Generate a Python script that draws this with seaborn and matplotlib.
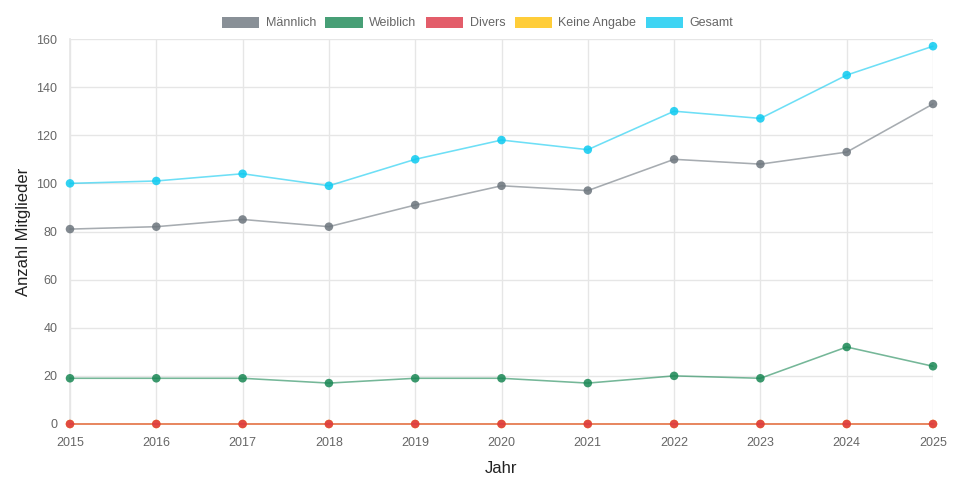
import matplotlib
matplotlib.use("Agg")
import matplotlib.pyplot as plt
from matplotlib.patches import Patch
import seaborn as sns
import pandas as pd

years = [2015, 2016, 2017, 2018, 2019, 2020, 2021, 2022, 2023, 2024, 2025]
maennlich = [81, 82, 85, 82, 91, 99, 97, 110, 108, 113, 133]
weiblich = [19, 19, 19, 17, 19, 19, 17, 20, 19, 32, 24]
divers = [0, 0, 0, 0, 0, 0, 0, 0, 0, 0, 0]
keine_angabe = [0, 0, 0, 0, 0, 0, 0, 0, 0, 0, 0]
gesamt = [100, 101, 104, 99, 110, 118, 114, 130, 127, 145, 157]

series_names = ["Männlich", "Weiblich", "Divers", "Keine Angabe", "Gesamt"]
series_values = [maennlich, weiblich, divers, keine_angabe, gesamt]
colors = {"Männlich": "#6c757d", "Weiblich": "#198754", "Divers": "#dc3545",
          "Keine Angabe": "#ffc107", "Gesamt": "#0dcaf0"}

rows = []
for name, vals in zip(series_names, series_values):
    for y, v in zip(years, vals):
        rows.append({"Jahr": y, "Wert": v, "Serie": name})
df = pd.DataFrame(rows)

sns.set_theme(style="white")
plt.rcParams["font.family"] = ["Liberation Sans", "DejaVu Sans"]

fig = plt.figure(figsize=(9.55, 4.83), dpi=100)
ax = fig.add_axes([70 / 955, 1 - 424 / 483, (933 - 70) / 955, (424 - 39) / 483])

# Chart.js draws the first dataset on top: draw in reverse order
draw_order = ["Gesamt", "Keine Angabe", "Divers", "Weiblich", "Männlich"]
for i, name in enumerate(draw_order):
    sub = df[df["Serie"] == name]
    n_before = len(ax.lines)
    sns.lineplot(data=sub, x="Jahr", y="Wert", ax=ax, color=colors[name],
                 alpha=0.6, linewidth=1.15, zorder=3 + i, legend=False)
    for ln in ax.lines[n_before:]:
        ln.set_clip_on(False)
    sns.scatterplot(data=sub, x="Jahr", y="Wert", ax=ax, color=colors[name],
                    alpha=0.85, s=38, edgecolor="none", zorder=3.5 + i, legend=False,
                    clip_on=False)

ax.set_xlim(2015, 2025)
ax.set_ylim(0, 160)
ax.set_xticks(years)
ax.set_xticklabels([str(y) for y in years])
ax.set_yticks(range(0, 161, 20))
ax.grid(True, color="#e6e6e6", linewidth=1, zorder=0)
ax.set_axisbelow(True)
for s in ax.spines.values():
    s.set_visible(False)
ax.spines["left"].set_visible(True)
ax.spines["left"].set_color("#e6e6e6")
ax.spines["bottom"].set_visible(True)
ax.spines["bottom"].set_color("#e6e6e6")
ax.tick_params(axis="both", colors="#e6e6e6", labelcolor="#666666",
               labelsize=9, length=6, width=1, pad=3)
ax.set_xlabel("Jahr", fontsize=12, color="#222222", labelpad=9)
ax.set_ylabel("Anzahl Mitglieder", fontsize=12, color="#222222", labelpad=4)

handles = [Patch(facecolor=colors[n], alpha=0.8, edgecolor="none") for n in series_names]
fig.legend(handles, series_names, loc="center", bbox_to_anchor=(0.5, 1 - 23 / 483),
           ncol=5, frameon=False, fontsize=9, handlelength=3.0, handleheight=1.0,
           columnspacing=0.75, handletextpad=0.5, labelcolor="#666666")

fig.savefig("out.png", dpi=100)
